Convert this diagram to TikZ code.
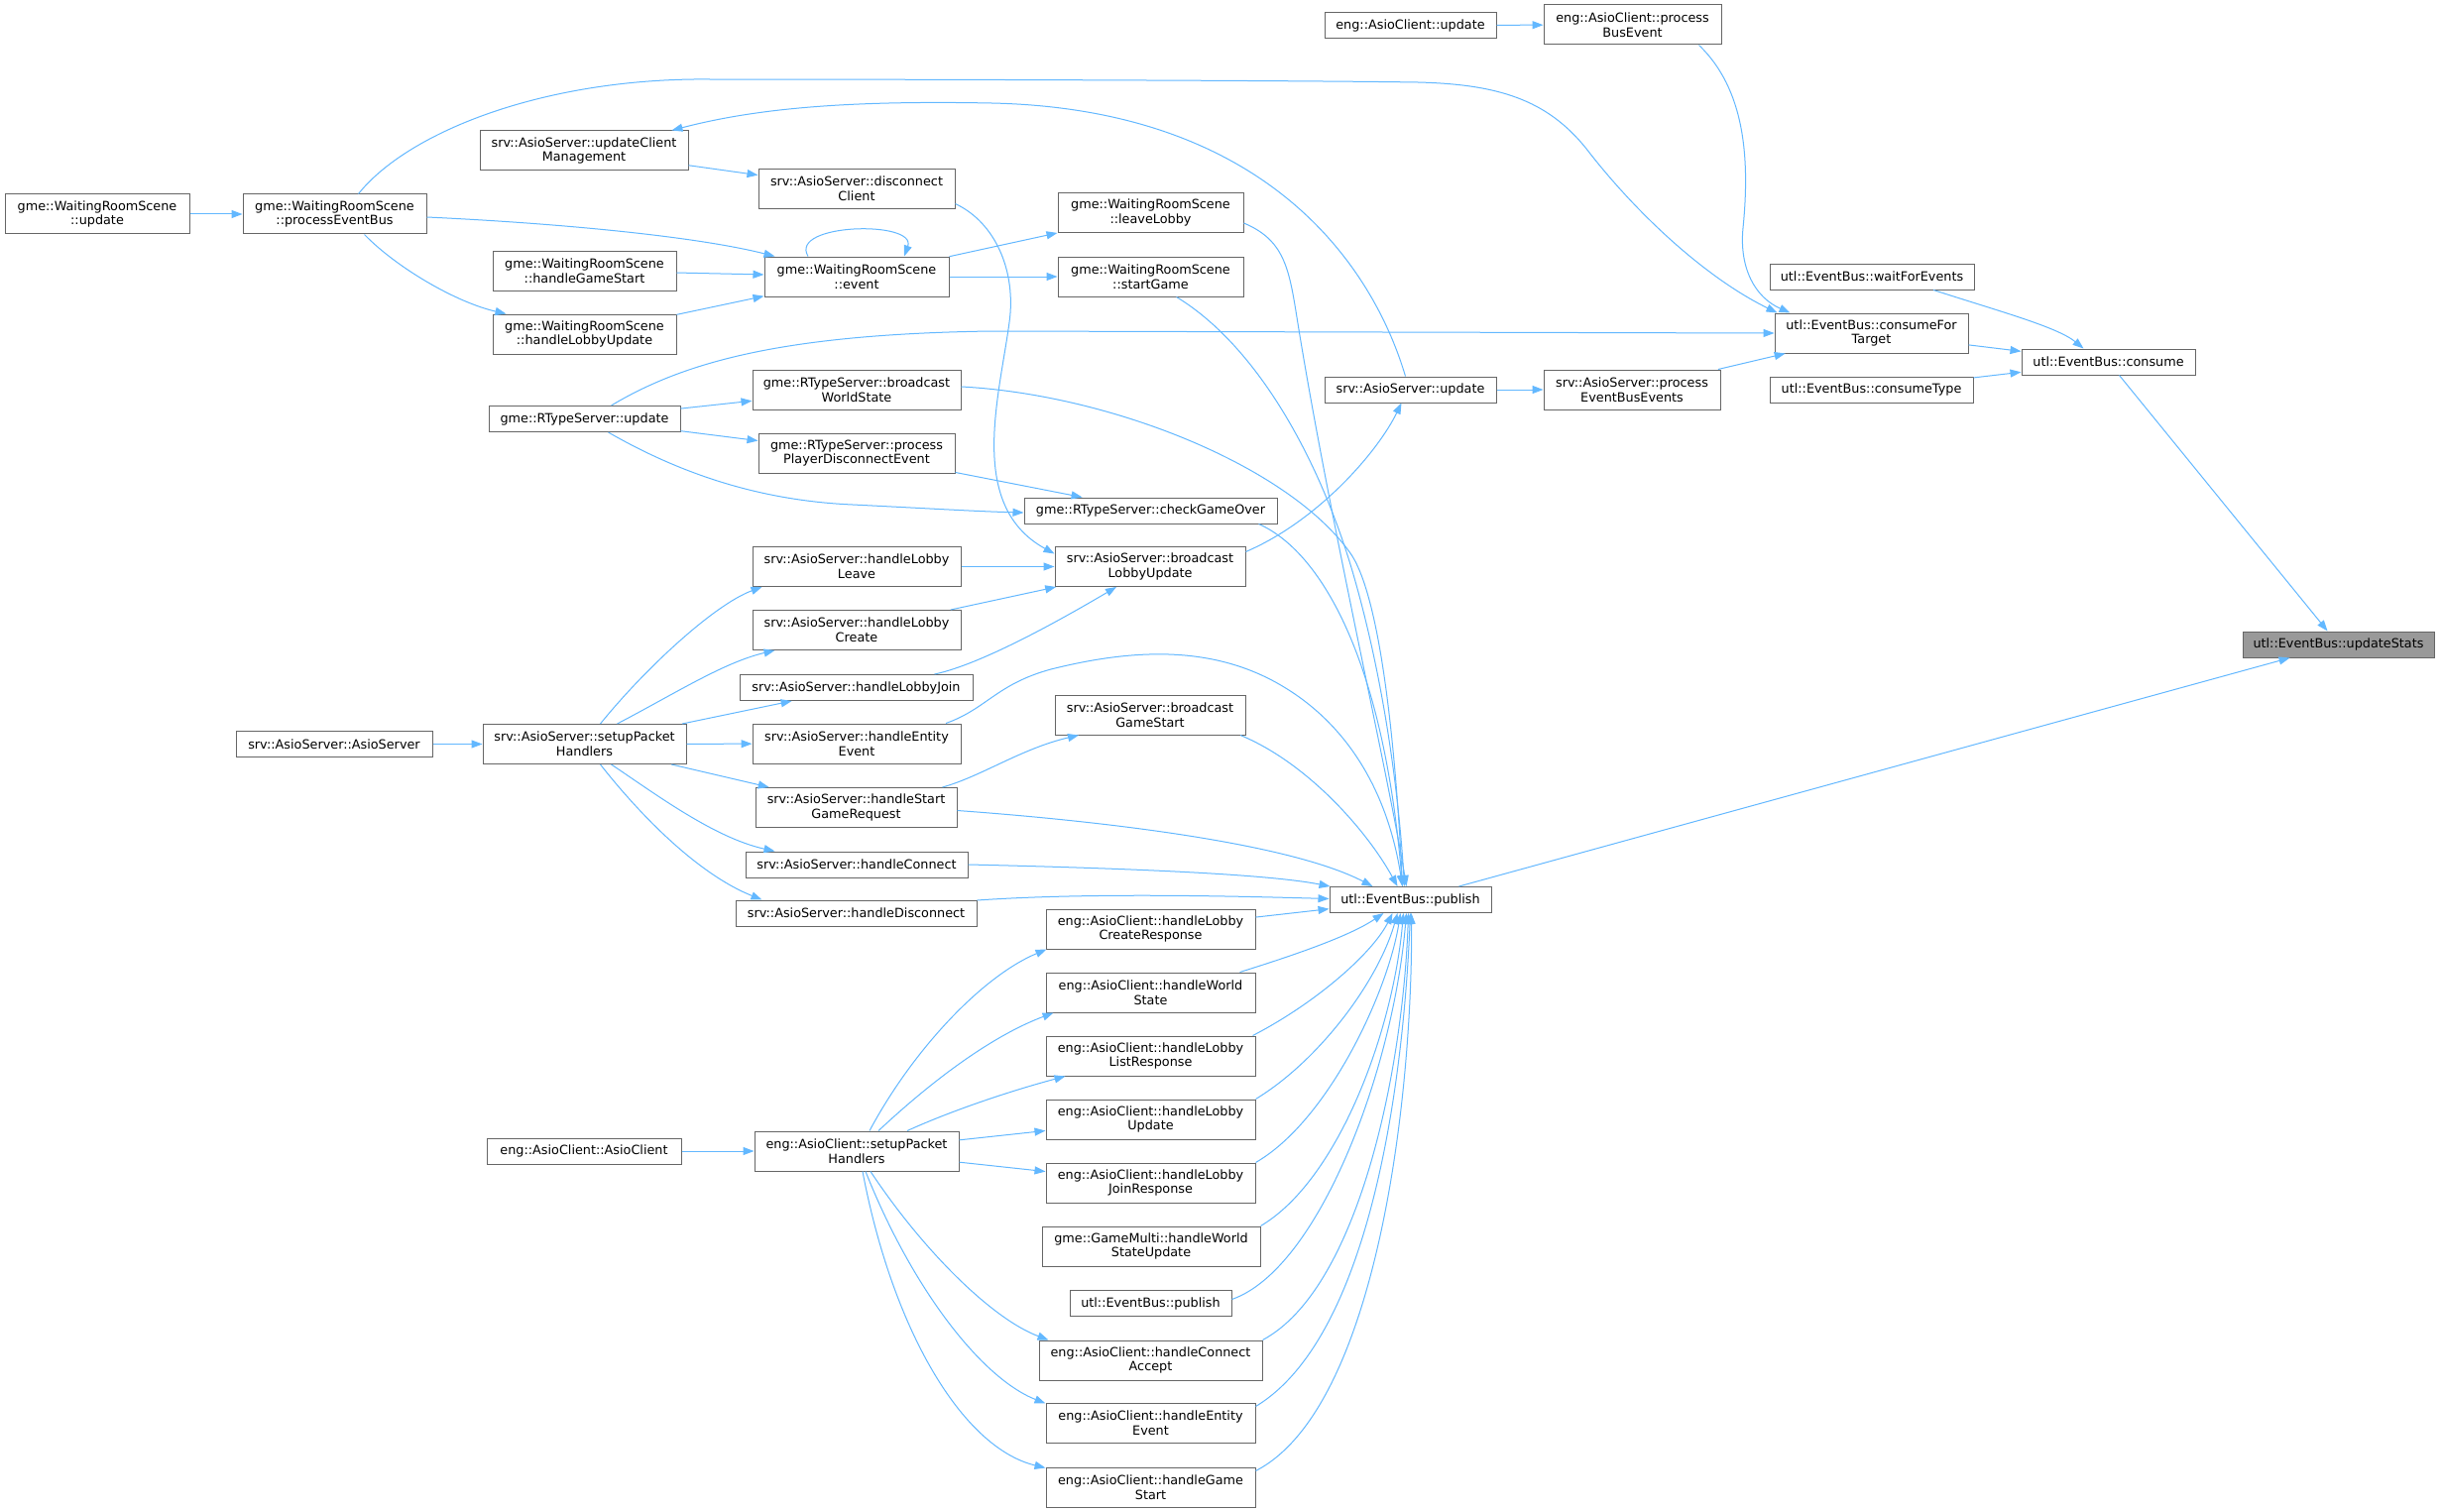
\documentclass[tikz,border=0pt]{standalone}
\usepackage{fontspec}
\setmainfont{DejaVu Sans}
\usetikzlibrary{arrows.meta}
\definecolor{grey40}{HTML}{666666}
\definecolor{grey60}{HTML}{999999}
\definecolor{callblue}{HTML}{63B8FF}

\begin{document}
\begin{tikzpicture}[x=1pt,y=-1pt]
  \tikzstyle{fn}=[rectangle,draw=grey40,fill=white,line width=1pt,inner xsep=2pt,inner ysep=1pt,align=center,minimum height=26pt,font=\fontsize{12.8pt}{14.7pt}\selectfont]
  \tikzstyle{fn2}=[fn,minimum height=40pt]
  \tikzstyle{cur}=[fn,fill=grey60]
  \tikzstyle{call}=[draw=callblue,line width=1pt,-{Triangle[length=11pt,width=8pt]}]
  \path[fill=white] (0,0) rectangle (2463,1525);
  \useasboundingbox (0,0) rectangle (2463,1525);

  \node[fn,minimum width=173] (clUpdate) at (1422.5,25.5) {eng::AsioClient::update};
  \node[fn2,minimum width=179] (clBusEvent) at (1646.5,25) {eng::AsioClient::process\\BusEvent};
  \node[fn2,minimum width=210] (svClientMgmt) at (589,152) {srv::AsioServer::updateClient\\Management};
  \node[fn2,minimum width=186] (wrUpdate) at (98,216) {gme::WaitingRoomScene\\::update};
  \node[fn2,minimum width=185] (wrBus) at (337.5,216) {gme::WaitingRoomScene\\::processEventBus};
  \node[fn2,minimum width=198] (svDisconnect) at (864,190.5) {srv::AsioServer::disconnect\\Client};
  \node[fn2,minimum width=187] (wrLeave) at (1160.5,214.5) {gme::WaitingRoomScene\\::leaveLobby};
  \node[fn2,minimum width=185] (wrGameStart) at (589.5,273) {gme::WaitingRoomScene\\::handleGameStart};
  \node[fn2,minimum width=186] (wrEvent) at (864,279) {gme::WaitingRoomScene\\::event};
  \node[fn2,minimum width=187] (wrStart) at (1160.5,279) {gme::WaitingRoomScene\\::startGame};
  \node[fn2,minimum width=185] (wrLobbyUpd) at (589.5,337) {gme::WaitingRoomScene\\::handleLobbyUpdate};
  \node[fn,minimum width=206] (ebWait) at (1888,279) {utl::EventBus::waitForEvents};
  \node[fn2,minimum width=195] (ebTarget) at (1887.5,336) {utl::EventBus::consumeFor\\Target};
  \node[fn,minimum width=175] (ebConsume) at (2126.5,365) {utl::EventBus::consume};
  \node[fn,minimum width=205] (ebType) at (1887.5,393) {utl::EventBus::consumeType};
  \node[fn2,minimum width=210] (rtWorld) at (864,393) {gme::RTypeServer::broadcast\\WorldState};
  \node[fn,minimum width=173] (svUpdate) at (1422.5,393) {srv::AsioServer::update};
  \node[fn2,minimum width=178] (svBusEvents) at (1646,393) {srv::AsioServer::process\\EventBusEvents};
  \node[fn,minimum width=193] (rtUpdate) at (589.5,422.5) {gme::RTypeServer::update};
  \node[fn2,minimum width=198] (rtPlayerDisc) at (864,457) {gme::RTypeServer::process\\PlayerDisconnectEvent};
  \node[fn,minimum width=255] (rtGameOver) at (1160.5,515) {gme::RTypeServer::checkGameOver};
  \node[fn2,minimum width=210] (svLeave) at (864,571.5) {srv::AsioServer::handleLobby\\Leave};
  \node[fn2,minimum width=192] (svLobbyUpd) at (1160,571.5) {srv::AsioServer::broadcast\\LobbyUpdate};
  \node[fn2,minimum width=210] (svCreate) at (864,635.5) {srv::AsioServer::handleLobby\\Create};
  \node[fn,minimum width=235] (svJoin) at (863.5,693.5) {srv::AsioServer::handleLobbyJoin};
  \node[cur,minimum width=193] (ebStats) at (2358.5,650) {utl::EventBus::updateStats};
  \node[fn2,minimum width=210] (svEntity) at (864,750) {srv::AsioServer::handleEntity\\Event};
  \node[fn2,minimum width=192] (svGameStart) at (1160,721) {srv::AsioServer::broadcast\\GameStart};
  \node[fn,minimum width=198] (svCtor) at (337,750.5) {srv::AsioServer::AsioServer};
  \node[fn2,minimum width=205] (svSetup) at (589.5,750.5) {srv::AsioServer::setupPacket\\Handlers};
  \node[fn2,minimum width=203] (svStartReq) at (863.5,814.5) {srv::AsioServer::handleStart\\GameRequest};
  \node[fn,minimum width=224] (svConnect) at (864,872) {srv::AsioServer::handleConnect};
  \node[fn,minimum width=243] (svDisc) at (863.5,921) {srv::AsioServer::handleDisconnect};
  \node[fn,minimum width=163] (ebPublish) at (1422.5,907.5) {utl::EventBus::publish};
  \node[fn2,minimum width=211] (clCreate) at (1160.5,937) {eng::AsioClient::handleLobby\\CreateResponse};
  \node[fn2,minimum width=211] (clWorld) at (1160.5,1001) {eng::AsioClient::handleWorld\\State};
  \node[fn2,minimum width=211] (clList) at (1160.5,1065) {eng::AsioClient::handleLobby\\ListResponse};
  \node[fn2,minimum width=211] (clLobbyUpd) at (1160.5,1129) {eng::AsioClient::handleLobby\\Update};
  \node[fn,minimum width=196] (clCtor) at (589,1161) {eng::AsioClient::AsioClient};
  \node[fn2,minimum width=206] (clSetup) at (864,1161) {eng::AsioClient::setupPacket\\Handlers};
  \node[fn2,minimum width=211] (clJoin) at (1160.5,1193) {eng::AsioClient::handleLobby\\JoinResponse};
  \node[fn2,minimum width=220] (gmWorld) at (1161,1257) {gme::GameMulti::handleWorld\\StateUpdate};
  \node[fn,minimum width=163] (ebPublishT) at (1160.5,1314.5) {utl::EventBus::publish};
  \node[fn2,minimum width=225] (clAccept) at (1160.5,1372) {eng::AsioClient::handleConnect\\Accept};
  \node[fn2,minimum width=211] (clEntity) at (1160.5,1435) {eng::AsioClient::handleEntity\\Event};
  \node[fn2,minimum width=211] (clGameStart) at (1160.5,1500) {eng::AsioClient::handleGame\\Start};

  \draw[call] (wrUpdate) -- (wrBus);
  \draw[call] ([xshift=24pt]wrBus.north) .. controls (410,135) and (540,82) .. (700,80) .. controls (900,80) and (1300,81) .. (1430,83) .. controls (1510,85) and (1560,100) .. (1600,150) .. controls (1650,215) and (1720,280) .. ([xshift=-95pt]ebTarget.north);
  \draw[call] ([yshift=-3pt]wrBus.east) .. controls (560,225) and (700,238) .. ([xshift=11pt]wrEvent.north west);
  \draw[call] ([xshift=30pt]wrBus.south) .. controls (400,270) and (460,305) .. ([xshift=14pt]wrLobbyUpd.north west);
  \draw[call] ([xshift=-5pt]svUpdate.north) .. controls (1385,270) and (1280,110) .. (1000,104) .. controls (850,101) and (760,110) .. ([xshift=-17pt]svClientMgmt.north east);
  \draw[call] (svClientMgmt) -- (svDisconnect);
  \draw[call] ([yshift=-15pt]svDisconnect.east) .. controls (1005,225) and (1025,275) .. (1018,325) .. controls (1008,400) and (975,510) .. ([yshift=13pt]svLobbyUpd.west);
  \draw[call] ([xshift=-49pt]wrEvent.north) .. controls (795,225) and (925,222) .. ([xshift=48pt]wrEvent.north);
  \draw[call] (wrEvent) -- (wrLeave);
  \draw[call] (wrEvent) -- (wrStart);
  \draw[call] (wrGameStart) -- (wrEvent);
  \draw[call] (wrLobbyUpd) -- (wrEvent);
  \draw[call] ([yshift=-10.5pt]wrLeave.east) .. controls (1295,242) and (1300,270) .. (1308,320) .. controls (1340,520) and (1400,780) .. ([xshift=-4pt]ebPublish.north);
  \draw[call] ([xshift=26pt]wrStart.south) .. controls (1270,350) and (1335,470) .. (1368,590) .. controls (1400,705) and (1412,820) .. ([xshift=-6pt]ebPublish.north);
  \draw[call] (clUpdate) -- (clBusEvent);
  \draw[call] ([xshift=67pt]clBusEvent.south) .. controls (1760,90) and (1765,160) .. (1758,230) .. controls (1754,270) and (1770,300) .. ([xshift=-82pt]ebTarget.north);
  \draw[call] ([xshift=62pt]ebWait.south) .. controls (2020,315) and (2075,330) .. ([xshift=-25pt]ebConsume.north);
  \draw[call] (ebTarget) -- (ebConsume);
  \draw[call] (ebType) -- (ebConsume);
  \draw[call] (ebConsume) -- (ebStats);
  \draw[call] (ebPublish) -- (ebStats);
  \draw[call] ([xshift=27pt]rtUpdate.north) .. controls (690,365) and (790,337) .. (1000,334) -- (ebTarget.west);
  \draw[call] (rtUpdate) -- (rtWorld);
  \draw[call] (rtUpdate) -- (rtPlayerDisc);
  \draw[call] ([xshift=24pt]rtUpdate.south) .. controls (690,480) and (770,505) .. (860,509) .. controls (940,513) and (990,516) .. ([yshift=-2pt]rtGameOver.west);
  \draw[call] (rtPlayerDisc) -- (rtGameOver);
  \draw[call] ([yshift=3pt]rtWorld.east) .. controls (1120,398) and (1300,470) .. (1362,558) .. controls (1397,608) and (1410,800) .. ([xshift=-8pt]ebPublish.north);
  \draw[call] (svUpdate) -- (svBusEvents);
  \draw[call] (svBusEvents) -- (ebTarget);
  \draw[call] ([xshift=-19pt]rtGameOver.south east) .. controls (1330,555) and (1395,660) .. ([xshift=-8pt]ebPublish.north);
  \draw[call] ([yshift=15pt]svLobbyUpd.east) .. controls (1330,525) and (1390,455) .. ([xshift=-9pt]svUpdate.south);
  \draw[call] (svLeave) -- (svLobbyUpd);
  \draw[call] (svCreate) -- (svLobbyUpd);
  \draw[call] ([xshift=79pt]svJoin.north) .. controls (990,670) and (1070,625) .. ([xshift=-34pt]svLobbyUpd.south);
  \draw[call] (svCtor) -- (svSetup);
  \draw[call] ([xshift=16pt]svSetup.north) .. controls (650,675) and (720,610) .. ([xshift=10pt]svLeave.south west);
  \draw[call] ([xshift=33pt]svSetup.north) .. controls (680,700) and (730,668) .. ([xshift=23pt]svCreate.south west);
  \draw[call] (svSetup) -- (svJoin);
  \draw[call] (svSetup) -- (svEntity);
  \draw[call] (svSetup) -- (svStartReq);
  \draw[call] ([xshift=27pt]svSetup.south) .. controls (660,800) and (720,845) .. ([xshift=30pt]svConnect.north west);
  \draw[call] ([xshift=16pt]svSetup.south) .. controls (640,815) and (700,880) .. ([xshift=27pt]svDisc.north west);
  \draw[call] ([xshift=90pt]svEntity.north) .. controls (995,715) and (1005,690) .. (1060,675) .. controls (1140,655) and (1220,650) .. (1290,690) .. controls (1360,730) and (1400,800) .. ([xshift=-8pt]ebPublish.north);
  \draw[call] ([xshift=87pt]svStartReq.north) .. controls (990,783) and (1030,755) .. ([xshift=-72pt]svGameStart.south);
  \draw[call] ([xshift=91pt]svGameStart.south) .. controls (1320,770) and (1380,840) .. ([xshift=-13pt]ebPublish.north);
  \draw[call] ([yshift=-3pt]svStartReq.east) .. controls (1110,828) and (1300,850) .. ([xshift=-38pt]ebPublish.north);
  \draw[call] (svConnect.east) .. controls (1150,876) and (1280,882) .. ([xshift=1pt]ebPublish.north west);
  \draw[call] ([yshift=13pt]svDisc.east) .. controls (1100,900) and (1250,904) .. ([yshift=1pt]ebPublish.west);
  \draw[call] (clCreate) -- (ebPublish);
  \draw[call] ([xshift=90pt]clWorld.north) .. controls (1300,965) and (1360,945) .. ([xshift=-27pt]ebPublish.south);
  \draw[call] ([xshift=103pt]clList.north) .. controls (1330,1010) and (1385,960) .. ([xshift=-18pt]ebPublish.south);
  \draw[call] (clLobbyUpd.north east) .. controls (1330,1070) and (1390,990) .. ([xshift=-13pt]ebPublish.south);
  \draw[call] (clJoin.north east) .. controls (1340,1130) and (1400,1000) .. ([xshift=-10pt]ebPublish.south);
  \draw[call] (gmWorld.north east) .. controls (1350,1190) and (1405,1040) .. ([xshift=-7pt]ebPublish.south);
  \draw[call] ([yshift=4pt]ebPublishT.east) .. controls (1330,1280) and (1405,1080) .. ([xshift=-4pt]ebPublish.south);
  \draw[call] (clAccept.north east) .. controls (1370,1300) and (1415,1080) .. ([xshift=-2pt]ebPublish.south);
  \draw[call] ([yshift=-4pt]clEntity.north east) .. controls (1380,1350) and (1415,1100) .. (ebPublish.south);
  \draw[call] ([yshift=-4pt]clGameStart.north east) .. controls (1390,1420) and (1425,1100) .. ([xshift=1pt]ebPublish.south);
  \draw[call] (clCtor) -- (clSetup);
  \draw[call] ([xshift=13pt]clSetup.north) .. controls (920,1060) and (990,985) .. ([xshift=1pt]clCreate.south west);
  \draw[call] ([xshift=22pt]clSetup.north) .. controls (940,1090) and (1000,1045) .. ([xshift=8pt]clWorld.south west);
  \draw[call] ([xshift=51pt]clSetup.north) .. controls (960,1120) and (1020,1100) .. ([xshift=20pt]clList.south west);
  \draw[call] (clSetup) -- (clLobbyUpd);
  \draw[call] (clSetup) -- (clJoin);
  \draw[call] ([xshift=14pt]clSetup.south) .. controls (930,1260) and (1000,1330) .. ([xshift=10pt]clAccept.north west);
  \draw[call] ([xshift=9pt]clSetup.south) .. controls (920,1300) and (990,1390) .. ([yshift=-1pt]clEntity.north west);
  \draw[call] ([xshift=6pt]clSetup.south) .. controls (900,1340) and (970,1460) .. ([yshift=-1pt]clGameStart.north west);
\end{tikzpicture}
\end{document}
